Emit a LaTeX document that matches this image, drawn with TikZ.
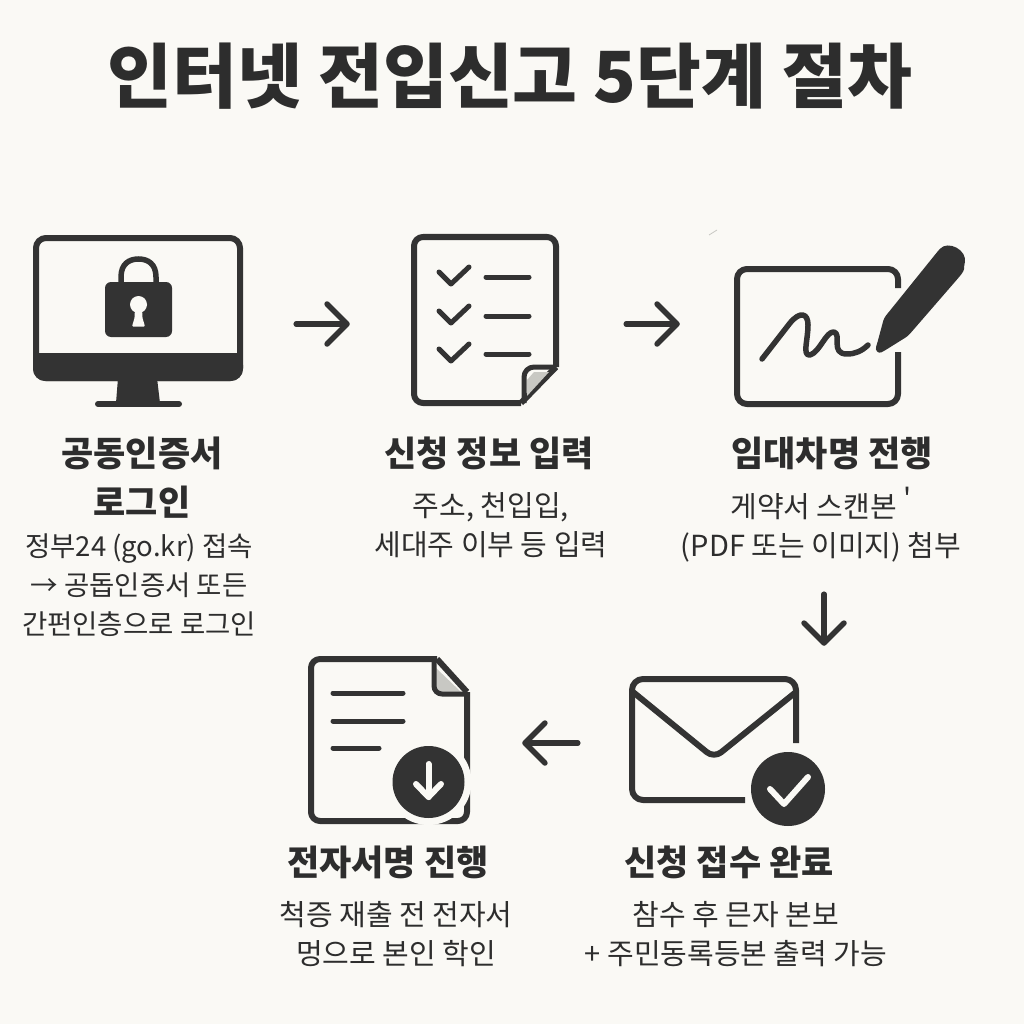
\documentclass[tikz,border=0pt]{standalone}
\usepackage{fontspec}
\usetikzlibrary{arrows.meta}
\setmainfont{Noto Sans CJK KR}
\newfontfamily\plainkr{Noto Sans CJK KR}
\definecolor{paper}{HTML}{FAF9F5}
\definecolor{ink}{HTML}{333333}
\definecolor{txt}{HTML}{2D2D2D}
\definecolor{foldgray}{HTML}{C8C8C3}
\tikzset{
  titletext/.style={text=txt,inner sep=0pt,font=\fontsize{70.5}{80}\selectfont\bfseries},
  headtext/.style={text=txt,inner sep=0pt,align=center,font=\fontsize{35}{49}\selectfont\bfseries},
  subtext/.style={text=txt,inner sep=0pt,align=center,font=\fontsize{29}{39}\selectfont},
  subnarrow/.style={text=txt,inner sep=0pt,align=center,font=\fontsize{27.5}{39}\selectfont},
  outline/.style={draw=ink,line width=6pt,line join=round,fill=none},
  bar/.style={draw=ink,line width=6pt,line cap=round,line join=round},
  thin/.style={draw=ink,line width=5pt,line cap=round,line join=round},
  flow/.style={draw=ink,line width=5.5pt,line cap=round,-{Straight Barb[length=20pt,width=40pt,line width=5.5pt,round]}},
}
\begin{document}
\begin{tikzpicture}[x=1pt,y=-1pt]
\useasboundingbox (0,0) rectangle (1024,1024);
\fill[paper] (0,0) rectangle (1024,1024);

% title
\node[titletext] (title) at (510,76) {인터넷 전입신고 5단계 절차};

% anchor boxes of the icons
\node[minimum width=210pt,minimum height=172pt,inner sep=0pt] (monitor) at (138,321) {};
\node[minimum width=148pt,minimum height=172pt,inner sep=0pt] (form) at (484,320) {};
\node[minimum width=232pt,minimum height=158pt,inner sep=0pt] (sign) at (849,330) {};
\node[minimum width=200pt,minimum height=150pt,inner sep=0pt] (mail) at (725,751) {};
\node[minimum width=162pt,minimum height=170pt,inner sep=0pt] (file) at (389,740) {};

% monitor
\draw[outline,rounded corners=10pt] (36,238) rectangle (240,378);
\fill[ink,rounded corners=12pt] (33,353) -- (243,353) -- (243,381) -- (33,381) -- cycle;
\fill[ink] (33,353) rectangle (243,366);
\fill[ink] (118,378) -- (157,378) -- (160,403) -- (116,403) -- cycle;
\draw[bar] (98,404) -- (179,404);
% lock
\draw[draw=ink,line width=5.5pt] (121,285) -- (121,277) .. controls (121,264) and (129,259) .. (138.5,259) .. controls (148,259) and (156,264) .. (156,277) -- (156,285);
\fill[ink,rounded corners=6pt] (105,282) rectangle (172,337);
\fill[paper] (138.5,304.5) circle (8.5pt);
\fill[paper,rounded corners=1pt] (135,308) -- (142,308) -- (142.5,318) -- (145,326.5) -- (132,326.5) -- (134.5,318) -- cycle;

% form
\draw[outline,rounded corners=9pt] (521,403) -- (414,403) -- (414,237) -- (556,237) -- (556,367);
\draw[outline,line join=round] (556,367) -- (521,403);
\fill[foldgray] (549,372) -- (534,372) -- (527,380) -- (527,396) -- cycle;
\draw[outline,rounded corners=10pt,line width=5pt] (556,367) -- (524,367) -- (524,403);
\foreach \yy in {272,311,349}{
  \draw[thin] (439,\yy) -- (451,\yy+12) -- (469,\yy-5);
}
\foreach \yy in {277,316,354}{ \draw[thin] (486,\yy) -- (529,\yy); }

% signature
\draw[outline,rounded corners=10pt] (898,288) -- (898,269) -- (737,269) -- (737,404) -- (898,404) -- (898,352);
\draw[thin,line width=5.5pt,line cap=round] (762,359) -- (790,323) .. controls (800,311) and (808,313) .. (808,325) .. controls (808,340) and (802,356) .. (810,355) .. controls (820,352) and (826,331) .. (834,332) .. controls (842,334) and (830,354) .. (847,354) .. controls (855,354) and (862,351) .. (868,345);
\fill[ink,rounded corners=3pt] (884,318) -- (938,251) .. controls (948,240) and (968,250) .. (964,266) .. controls (964,270) and (963,272) .. (960,276) -- (908,336) -- (884,351) .. controls (878,354) and (875,350) .. (877,344) -- cycle;

% mail
\draw[outline,rounded corners=11pt] (745,800) -- (632,800) -- (632,679) -- (796,679) -- (796,743);
\draw[outline,rounded corners=9pt] (633,692) -- (714,758) -- (796,692);
\fill[paper] (788,789) circle (43pt);
\draw[outline] (796,725) -- (796,743);
\fill[ink] (788,789) circle (37pt);
\draw[draw=paper,line width=6pt,line cap=round,line join=round] (770,789) -- (784,804) -- (808,777);

% file
\draw[outline,rounded corners=9pt] (437,659) -- (311,659) -- (311,821) -- (467,821) -- (467,692);
\draw[outline] (437,659) -- (467,692);
\fill[foldgray] (436,668) -- (461,692) -- (436,692) -- cycle;
\draw[outline,rounded corners=8pt,line width=5pt] (434,660) -- (434,694) -- (467,694);
\draw[thin] (333,693) -- (403,693);
\draw[thin] (333,721) -- (403,721);
\draw[thin] (333,748) -- (379,748);
\fill[paper] (428.5,782) circle (43pt);
\fill[ink] (428.5,782) circle (36pt);
\draw[draw=paper,line width=6pt,line cap=round,line join=round] (428.5,764) -- (428.5,797);
\draw[draw=paper,line width=6pt,line cap=round,line join=round] (416,784) -- (428.5,797) -- (441,784);

% stray mark
\draw[foldgray,line width=0.8pt] (709,235) -- (717,230);

% connectors
\draw[flow,shorten <=53pt,shorten >=60pt] ([yshift=-3pt]monitor.east) -- ([yshift=-4pt]form.west);
\draw[flow,shorten <=68pt,shorten >=53pt] ([yshift=-4pt]form.east) -- ([yshift=6pt]sign.west);
\draw[flow,shorten <=185pt,shorten >=30pt] (sign.south -| 824,409) -- (mail.north -| 824,676);
\draw[flow,shorten <=47pt,shorten >=52pt] (mail.west |- 0,743) -- (file.east |- 0,743);

% labels
\node[headtext] (h1) at (142,478) {공동인증서\\로그인};
\node[subnarrow] (s1) at (139,585) {정부24 (go.kr) 접속\\→ 공돕인증서 또든\\간펀인층으로 로그인};
\node[headtext] (h2) at (489,453) {신청 정보 입력};
\node[subtext] (s2) at (491,525) {주소, 천입입,\\세대주 이부 등 입력};
\node[headtext] (h3) at (832,453) {임대차명 전행};
\node[subtext] (s3) at (821,525) {게약서 스캔본 \raisebox{8pt}{\plainkr '}\\(PDF 또는 이미지) 첨부};
\node[headtext] (h4) at (729,862) {신청 접수 완료};
\node[subtext] (s4) at (736,934) {참수 후 믄자 본보\\+ 주민동록등본 출력 가능};
\node[headtext] (h5) at (388,862) {전자서명 진행};
\node[subtext] (s5) at (396,934) {척증 재출 전 전자서\\멍으로 본인 학인};
\end{tikzpicture}
\end{document}
